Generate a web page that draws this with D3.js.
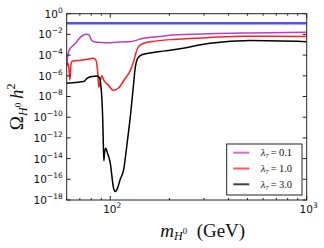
<!DOCTYPE html>
<html>
<head>
<meta charset="utf-8">
<script src="https://cdn.jsdelivr.net/npm/d3@7"></script>
<style>
  body { margin: 0; background: #fff; }
  svg { display: block; }
</style>
</head>
<body>
<div id="chart"></div>
<script>
// relic density vs mass (mass in GeV, log10 of Omega h^2)
const massMag = [60, 60.66, 61.2, 61.9, 63.3, 64.9, 66.9, 68.8, 71.0, 72.9, 75.2, 77.3, 78.7, 80.0, 81.3, 83.9, 86.2, 93.2, 100, 112.4, 126.4, 147.2, 179.5, 209, 322, 515, 1000];
const logMag = [-4.95, -4.2, -3.75, -3.5, -3.25, -3.05, -2.8, -2.5, -2.22, -2.08, -1.99, -2.0, -2.2, -2.5, -2.64, -2.73, -2.76, -2.8, -2.8, -2.73, -2.7, -2.38, -2.2, -2.06, -1.93, -1.86, -1.8];

const massRed = [60, 60.8, 61.5, 62.3, 63.1, 64.3, 70.4, 76.4, 79.8, 81.9, 83.9, 84.9, 86.4, 87.4, 89.0, 90.5, 93.2, 97.7, 103.6, 109.8, 119.2, 126.4, 131.4, 135.6, 139.3, 147.7, 169.3, 218.3, 322, 476, 1000];
const logRed = [-5.05, -4.76, -5.24, -6.4, -4.86, -4.57, -4.5, -4.4, -4.33, -4.3, -4.4, -4.6, -5.8, -7.1, -6.5, -6.0, -6.5, -6.9, -7.4, -7.2, -6.24, -5.5, -4.63, -3.7, -3.18, -2.86, -2.65, -2.47, -2.3, -2.18, -2.2];

const massBlack = [60, 66.4, 73.2, 76.1, 81.0, 85.6, 88.2, 89.5, 90.7, 91.6, 92.3, 92.8, 93.5, 94.9, 96.5, 100, 103.9, 106.0, 108.9, 112.4, 116.9, 120.6, 123.9, 126.4, 128.9, 131.4, 134.0, 136.7, 142.1, 147.7, 179.6, 218.3, 322, 515, 1000];
const logBlack = [-6.72, -6.64, -6.56, -6.25, -6.06, -6.01, -6.2, -6.88, -8.33, -10.4, -13.0, -14.2, -13.4, -13.0, -13.4, -14.44, -16.85, -17.18, -16.85, -16.0, -15.1, -13.2, -11.4, -10.0, -8.4, -6.8, -5.2, -4.47, -4.05, -3.92, -3.66, -3.44, -2.86, -2.6, -2.7];

// observed relic density line
const massPlanck = [60, 1000];
const omegaPlanck = [0.1199, 0.1199];

const legendLabels = ["0.1", "1.0", "3.0"];
const yTickExps = [0, -2, -4, -6, -8, -10, -12, -14, -16, -18];
const xMajor = [100, 1000];
const xMinor = [60, 70, 80, 90, 200, 300, 400, 500, 600, 700, 800, 900];

const width = 324, height = 248;
const margin = { top: 13.7, right: 17.3, bottom: 48, left: 66.7 };
const iw = width - margin.left - margin.right;
const ih = height - margin.top - margin.bottom;

const svg = d3.select("#chart").append("svg")
  .attr("width", width)
  .attr("height", height);

const g = svg.append("g")
  .attr("transform", `translate(${margin.left},${margin.top})`);

const x = d3.scaleLog().domain([60, 1000]).range([0, iw]);
const y = d3.scaleLog().domain([1e-18, 1]).range([ih, 0]);

g.append("clipPath").attr("id", "clip")
  .append("rect").attr("width", iw).attr("height", ih);

const line = d3.line()
  .x(d => x(d[0]))
  .y(d => y(d[1]))
  .curve(d3.curveMonotoneX);

const series = [
  { mass: massPlanck, omega: omegaPlanck, color: "#4f4fff", w: 2.6 },
  { mass: massMag, omega: logMag.map(v => Math.pow(10, v)), color: "#bf3fbf", w: 1.5 },
  { mass: massRed, omega: logRed.map(v => Math.pow(10, v)), color: "#ff2020", w: 1.5 },
  { mass: massBlack, omega: logBlack.map(v => Math.pow(10, v)), color: "#000000", w: 1.5 },
];

const plot = g.append("g").attr("clip-path", "url(#clip)");
series.forEach(s => {
  plot.append("path")
    .datum(s.mass.map((m, i) => [m, s.omega[i]]))
    .attr("d", line)
    .attr("fill", "none")
    .attr("stroke", s.color)
    .attr("stroke-width", s.w)
    .attr("stroke-linejoin", "round");
});

// ticks pointing inward on all four sides
const tickCol = "#222";
yTickExps.forEach(e => {
  const yy = y(Math.pow(10, e));
  g.append("line").attr("x1", 0).attr("x2", 4).attr("y1", yy).attr("y2", yy).attr("stroke", tickCol);
  g.append("line").attr("x1", iw).attr("x2", iw - 4).attr("y1", yy).attr("y2", yy).attr("stroke", tickCol);
  const t = g.append("text")
    .attr("x", -4)
    .attr("y", yy + 4)
    .attr("text-anchor", "end")
    .attr("font-family", "DejaVu Sans")
    .attr("font-size", 10.5)
    .attr("fill", "#111");
  t.append("tspan").text("10");
  t.append("tspan").attr("dy", -5).attr("font-size", 7.5).text(e === 0 ? "0" : "\u2212" + (-e));
});

xMajor.forEach(v => {
  const xx = x(v);
  g.append("line").attr("x1", xx).attr("x2", xx).attr("y1", ih).attr("y2", ih - 4).attr("stroke", tickCol);
  g.append("line").attr("x1", xx).attr("x2", xx).attr("y1", 0).attr("y2", 4).attr("stroke", tickCol);
  const t = g.append("text")
    .attr("x", xx + 2)
    .attr("y", ih + 13)
    .attr("text-anchor", "middle")
    .attr("font-family", "DejaVu Sans")
    .attr("font-size", 10.5)
    .attr("fill", "#111");
  t.append("tspan").text("10");
  t.append("tspan").attr("dy", -5).attr("font-size", 7.5).text(Math.round(Math.log10(v)));
});

xMinor.forEach(v => {
  const xx = x(v);
  g.append("line").attr("x1", xx).attr("x2", xx).attr("y1", ih).attr("y2", ih - 2).attr("stroke", tickCol);
  g.append("line").attr("x1", xx).attr("x2", xx).attr("y1", 0).attr("y2", 2).attr("stroke", tickCol);
});

g.append("rect")
  .attr("width", iw)
  .attr("height", ih)
  .attr("fill", "none")
  .attr("stroke", tickCol)
  .attr("stroke-width", 1);

// axis labels
const serif = "Liberation Serif";
const xl = g.append("text")
  .attr("x", iw / 2 + 16)
  .attr("y", ih + 37)
  .attr("text-anchor", "middle")
  .attr("font-family", serif)
  .attr("font-size", 19)
  .attr("fill", "#111");
xl.append("tspan").attr("font-style", "italic").text("m");
xl.append("tspan").attr("font-style", "italic").attr("font-size", 12).attr("dy", 3).text("H");
xl.append("tspan").attr("font-size", 9).attr("dy", -6).text("0");
xl.append("tspan").attr("dy", 3).text("\u2002(GeV)");

const yl = svg.append("text")
  .attr("transform", `translate(23,${margin.top + ih / 2}) rotate(-90)`)
  .attr("text-anchor", "middle")
  .attr("font-family", serif)
  .attr("font-size", 19)
  .attr("fill", "#111");
yl.append("tspan").text("\u03A9");
yl.append("tspan").attr("font-style", "italic").attr("font-size", 12).attr("dy", 4).text("H");
yl.append("tspan").attr("font-size", 9).attr("dy", -6).text("0");
yl.append("tspan").attr("font-style", "italic").attr("dy", 2).text("\u2009h");
yl.append("tspan").attr("font-size", 12).attr("dy", -8).text("2");

// legend
const lg = svg.append("g").attr("transform", "translate(226.7,144)");
lg.append("rect")
  .attr("width", 75.3)
  .attr("height", 51)
  .attr("fill", "#fff")
  .attr("stroke", "#222")
  .attr("stroke-width", 1);
series.slice(1).forEach((s, i) => {
  const ly = 8.7 + i * 15.8;
  lg.append("line")
    .attr("x1", 6.6).attr("x2", 22.6)
    .attr("y1", ly).attr("y2", ly)
    .attr("stroke", s.color)
    .attr("stroke-opacity", 0.75)
    .attr("stroke-width", 2);
  const t = lg.append("text")
    .attr("x", 34)
    .attr("y", ly + 3.5)
    .attr("font-family", serif)
    .attr("font-size", 10.5)
    .attr("fill", "#111");
  t.append("tspan").attr("font-style", "italic").text("\u03BB");
  t.append("tspan").attr("font-size", 7).attr("dy", 2).text("7");
  t.append("tspan").attr("dy", -2).text("\u2009=\u2009" + legendLabels[i]);
});
</script>
</body>
</html>
